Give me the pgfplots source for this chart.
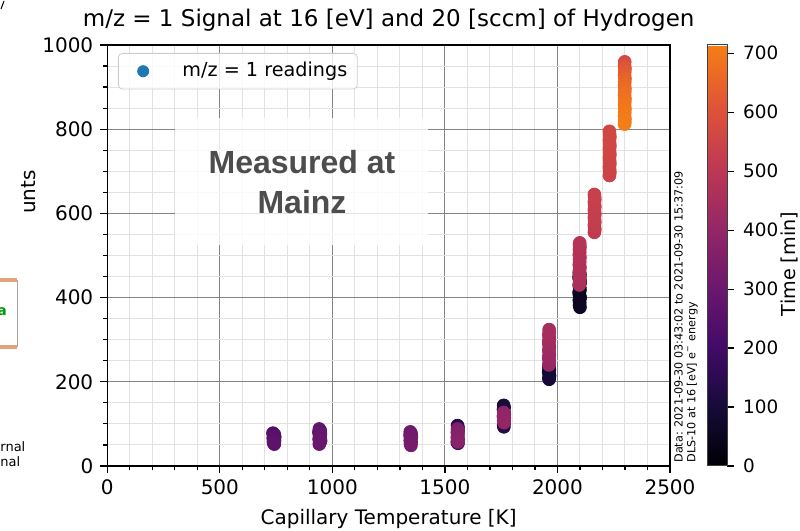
\documentclass[border=0pt]{standalone}
\usepackage{pgfplots}
\pgfplotsset{compat=1.18}
\usepackage{fontspec}
\setmainfont{DejaVu Sans}
\newfontfamily\arialfont{Liberation Sans}
\definecolor{mplblue}{HTML}{1F77B4}
\definecolor{majgrid}{HTML}{848484}
\definecolor{mingrid}{HTML}{E2E2E2}
\definecolor{mainzgray}{HTML}{4D4D4D}
\definecolor{tanline}{HTML}{E3A27C}
\definecolor{leggray}{HTML}{CCCCCC}

\pgfplotstableread{
x y t
2097 460 20
2100 454 23
2096 448 26
2099 442 29
2101 436 32
2097 430 35
2099 424 38
2100 418 41
2096 412 44
2098 406 47
2101 400 50
2097 394 53
2099 388 56
2098 382 58
2100 377 60
1962 234 68
1964 229 72
1961 224 76
1963 219 80
1965 214 84
1962 209 88
1963 206 92
1761 144 102
1763 139 106
1760 134 110
1762 128 114
1764 122 118
1761 116 121
1762 110 124
1763 104 127
1761 98 130
1762 93 133
1556 96 140
1558 92 144
1557 88 148
1555 56 152
1558 54 156
736 78 240
742 75 243
739 72 246
744 69 249
737 66 252
741 63 255
743 60 258
738 57 261
740 54 264
742 52 266
942 88 275
946 84 278
940 80 281
947 76 284
943 72 287
945 68 290
941 64 292
948 60 294
944 56 296
942 52 298
1346 81 310
1350 77 313
1345 73 316
1351 69 319
1348 65 322
1346 61 325
1350 57 328
1347 53 330
1349 49 332
1556 88 352
1559 84 355
1555 80 358
1558 76 361
1557 72 364
1555 68 366
1559 64 368
1556 60 370
1558 57 372
1761 127 390
1763 123 392
1760 119 394
1764 115 396
1762 111 398
1761 107 400
1763 103 402
1962 240 405
1964 246 408
1963 252 411
1961 258 414
1964 264 417
1963 270 420
1962 276 424
1964 282 428
1963 288 431
1961 294 434
1964 300 437
1963 306 440
1962 312 442
1964 318 444
1963 324 446
2097 430 455
2099 436 457
2098 442 459
2100 448 461
2097 454 463
2099 460 465
2098 466 467
2100 472 469
2097 478 471
2099 484 473
2098 490 475
2100 496 476
2097 502 477
2099 508 478
2098 514 479
2100 520 480
2098 526 481
2099 530 482
2164 555 515
2166 561 516
2165 567 518
2164 573 519
2166 579 520
2165 585 522
2164 591 523
2166 597 524
2165 603 526
2164 609 527
2166 615 528
2165 621 530
2164 627 531
2166 633 532
2165 639 534
2164 645 535
2231 690 545
2233 697 546
2232 704 548
2231 711 549
2233 718 550
2232 725 552
2231 732 553
2233 739 554
2232 746 556
2231 753 557
2233 760 558
2232 767 560
2231 774 561
2233 781 562
2232 788 564
2231 795 565
2299 960 575
2298 952 595
2300 944 610
2299 936 622
2298 928 632
2300 920 641
2299 912 650
2298 904 658
2300 896 665
2299 888 672
2298 880 678
2300 872 684
2299 864 689
2298 856 693
2300 848 697
2299 840 700
2298 832 703
2300 824 706
2299 816 709
2298 812 712
}\readings

\begin{document}
\begin{tikzpicture}[x=0.5pt,y=0.5pt]
\useasboundingbox (0,0) rectangle (800,531);
\begin{axis}[
  at={(53.65pt,32.5pt)}, anchor=south west,
  scale only axis, width=281.35pt, height=210.5pt,
  xmin=0, xmax=2500, ymin=0, ymax=1000,
  xtick={0,500,...,2500}, ytick={0,200,...,1000},
  minor x tick num=4, minor y tick num=3,
  grid=both,
  major grid style={majgrid, line width=0.5pt},
  minor grid style={mingrid, line width=0.5pt},
  axis line style={black, line width=0.75pt},
  tick pos=left, tick align=outside,
  major tick length=3.5pt, minor tick length=2pt,
  tick style={black, line width=0.6pt},
  /pgf/number format/assume math mode=true,
  /pgf/number format/set thousands separator={},
  ticklabel style={font=\fontsize{10}{12}\selectfont},
  title={m/z = 1 Signal at 16 [eV] and 20 [sccm] of Hydrogen},
  title style={font=\fontsize{11.5}{13}\selectfont, at={(0.5,1)}, anchor=base, yshift=3.5pt},
  xlabel={Capillary Temperature [K]},
  xlabel style={font=\fontsize{10}{12}\selectfont, at={(0.5,0)}, anchor=base, yshift=-29.5pt},
  colormap={inferno}{rgb255(0cm)=(0,0,4) rgb255(1cm)=(22,11,57) rgb255(2cm)=(66,10,104) rgb255(3cm)=(106,23,110) rgb255(4cm)=(147,38,103) rgb255(5cm)=(188,55,84) rgb255(6cm)=(221,81,58) rgb255(7cm)=(243,120,25) rgb255(7.14cm)=(244,126,23)},
  point meta min=0, point meta max=714,
  colorbar,
  colorbar style={
    at={(parent axis.north east)}, anchor=north west, xshift=10pt,
    scale only axis, width=10pt, height=210.5pt,
    ytick={0,100,...,700},
    axis line style={black!75, line width=0.5pt},
    ytick pos=right, tick align=outside,
    ytick style={black, line width=0.6pt}, major tick length=3.5pt,
    /pgf/number format/assume math mode=true,
    yticklabel style={font=\fontsize{9.2}{12}\selectfont, xshift=1pt},
  },
  legend style={at={(0.019,0.981)}, anchor=north west, draw=leggray, rounded corners=2pt,
    fill=white, fill opacity=0.8, text opacity=1, font=\fontsize{9.6}{11}\selectfont,
    inner xsep=3pt, inner ysep=2.5pt, column sep=0pt},
  legend cell align=left,
]
\addlegendimage{draw=none, mark=none, legend image code/.code={\fill[mplblue, draw=none, fill opacity=1, opacity=1] (0.33cm,0cm) circle (3pt); \path[draw=none] (0cm,0cm) -- (0.95cm,0cm);}}
\addlegendentry{m/z = 1 readings}
\addplot[scatter, only marks, mark=*, mark size=3.2pt, scatter src=explicit,
  scatter/use mapped color={draw=mapped color, fill=mapped color}, forget plot]
  table[x=x, y=y, meta=t] {\readings};
\end{axis}
% info text beside the right spine
\node[rotate=90, anchor=north west, align=left, inner sep=1.5pt,
  font=\fontsize{5.6}{6.3}\selectfont] at (671,531-466)
  {Data: 2021-09-30 03:43:02 to 2021-09-30 15:37:09\\DLS-10 at 16 [eV] e\textsuperscript{−} energy};
% colorbar label
\node[rotate=90, font=\fontsize{9.6}{12}\selectfont, inner sep=0pt] at (789,531-264) {Time [min]};
% overlay annotation
\fill[white, opacity=0.8] (175,531-118) rectangle (428,531-245);
\node[font=\arialfont\bfseries\fontsize{16}{20}\selectfont, text=mainzgray, align=center] at (302,531-182) {Measured at\\Mainz};
% cropped fragments of a neighbouring figure at the left edge
\node[rotate=90, font=\fontsize{10}{12}\selectfont] at (29,531-192) {unts};
\fill[tanline] (0,531-278) rectangle (17,531-282);
\fill[tanline] (0,531-345) rectangle (17,531-349);
\draw[black!35, line width=0.4pt] (17,531-280) -- (17,531-347);
\node[anchor=west, inner sep=0pt, font=\bfseries\fontsize{7}{8}\selectfont, text=green!60!black] at (-3,531-312) {a};
\node[anchor=base west, inner sep=0pt, font=\fontsize{6.5}{8}\selectfont] at (0,531-452) {rnal};
\node[anchor=base west, inner sep=0pt, font=\fontsize{6.5}{8}\selectfont] at (0,531-467) {nal};
\draw[black, line width=0.5pt] (1,531-9) -- (4,531-1);
\end{tikzpicture}
\end{document}
